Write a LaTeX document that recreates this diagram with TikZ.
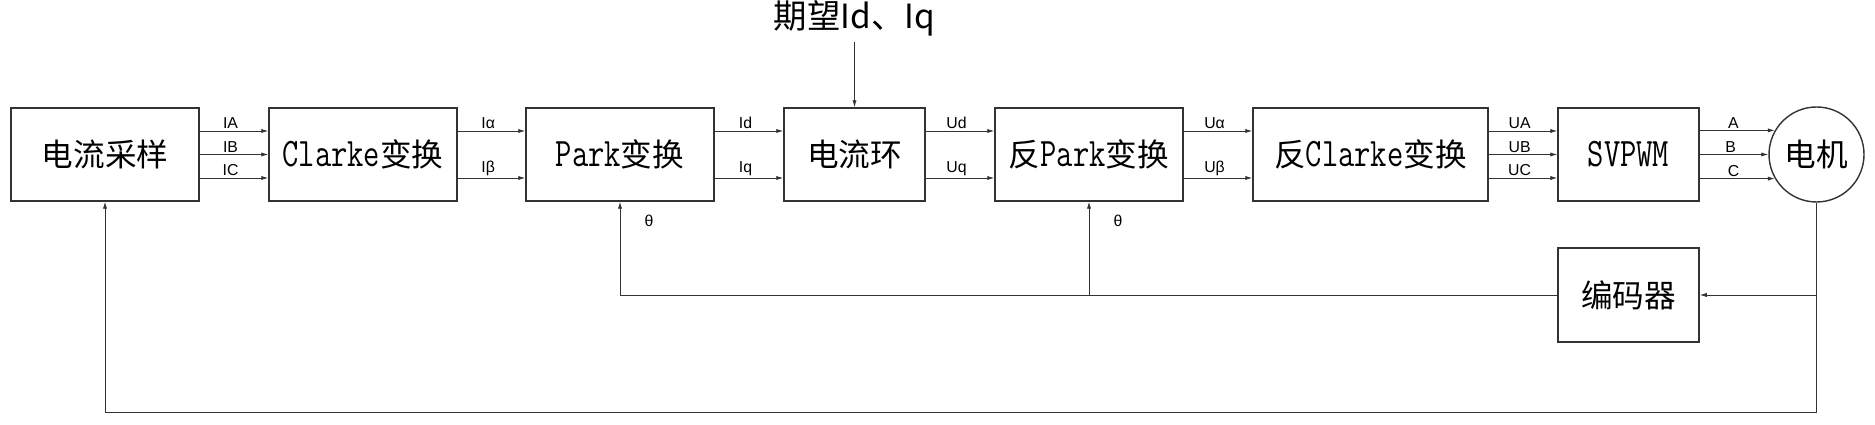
\documentclass[tikz,border=0pt]{standalone}
\usepackage{fontspec}
\setmainfont{Liberation Sans}
\newfontfamily\cjk{Noto Sans CJK SC}
\usetikzlibrary{arrows.meta, positioning, calc}
\definecolor{lnGray}{HTML}{333333}
\newcommand{\boxfont}{\cjk\fontsize{18}{20}\selectfont}
\newcommand{\labfont}{\fontsize{9}{10}\selectfont}
\newcommand{\lat}[1]{\scalebox{1}[1.28]{\ttfamily #1}}

\begin{document}
\begin{tikzpicture}[
    blk/.style={draw=lnGray, line width=0.8pt, minimum height=1.86cm, inner sep=0pt, font=\boxfont},
    sig/.style={draw=lnGray, line width=0.5pt, -{Latex[length=4pt,width=2.4pt]}},
    lab/.style={above, pos=0.45, inner sep=1pt, font=\labfont}]
    \useasboundingbox (0,0) rectangle (37.5,8.5);
    % forward path
    \node[blk, minimum width=3.76cm] (samp)    at (2.10,5.41)  {电流采样};
    \node[blk, minimum width=3.76cm] (clarke)  at (7.26,5.41)  {\lat{Clarke}变换};
    \node[blk, minimum width=3.76cm] (park)    at (12.40,5.41) {\lat{Park}变换};
    \node[blk, minimum width=2.82cm] (loop)    at (17.09,5.41) {电流环};
    \node[blk, minimum width=3.76cm] (ipark)   at (21.78,5.41) {反\lat{Park}变换};
    \node[blk, minimum width=4.70cm] (iclarke) at (27.41,5.41) {反\lat{Clarke}变换};
    \node[blk, minimum width=2.82cm] (svpwm)   at (32.57,5.41) {\lat{SVPWM}};
    \node[blk, circle, minimum size=1.9cm] (motor) at (36.33,5.41) {电机};
    \node[blk, minimum width=2.82cm, minimum height=1.88cm] (enc) at (32.57,2.60) {编码器};
    \node[font=\cjk\fontsize{19}{21}\selectfont] (ref) at (17.09,8.14) {期望Id、Iq};
    \draw[sig] (ref.south) -- (loop.north);
    % three phase links
    \draw[sig] ([yshift=0.47cm]samp.east) -- node[lab]{IA} ([yshift=0.47cm]clarke.west);
    \draw[sig] (samp.east) -- node[lab]{IB} (clarke.west);
    \draw[sig] ([yshift=-0.47cm]samp.east) -- node[lab]{IC} ([yshift=-0.47cm]clarke.west);
    \draw[sig] ([yshift=0.47cm]iclarke.east) -- node[lab]{UA} ([yshift=0.47cm]svpwm.west);
    \draw[sig] (iclarke.east) -- node[lab]{UB} (svpwm.west);
    \draw[sig] ([yshift=-0.47cm]iclarke.east) -- node[lab]{UC} ([yshift=-0.47cm]svpwm.west);
    \draw[sig] (svpwm.east |- motor.150) -- node[lab]{A} (motor.150);
    \draw[sig] (svpwm.east) -- node[lab]{B} (motor.west);
    \draw[sig] (svpwm.east |- motor.210) -- node[lab]{C} (motor.210);
    % two axis links
    \draw[sig] ([yshift=0.47cm]clarke.east) -- node[lab]{Iα} ([yshift=0.47cm]park.west);
    \draw[sig] ([yshift=-0.47cm]clarke.east) -- node[lab]{Iβ} ([yshift=-0.47cm]park.west);
    \draw[sig] ([yshift=0.47cm]park.east) -- node[lab]{Id} ([yshift=0.47cm]loop.west);
    \draw[sig] ([yshift=-0.47cm]park.east) -- node[lab]{Iq} ([yshift=-0.47cm]loop.west);
    \draw[sig] ([yshift=0.47cm]loop.east) -- node[lab]{Ud} ([yshift=0.47cm]ipark.west);
    \draw[sig] ([yshift=-0.47cm]loop.east) -- node[lab]{Uq} ([yshift=-0.47cm]ipark.west);
    \draw[sig] ([yshift=0.47cm]ipark.east) -- node[lab]{Uα} ([yshift=0.47cm]iclarke.west);
    \draw[sig] ([yshift=-0.47cm]ipark.east) -- node[lab]{Uβ} ([yshift=-0.47cm]iclarke.west);
    % feedback
    \coordinate (tap) at (motor.south |- enc.east);
    \coordinate (fbk) at ($(motor.south |- 0,0.26)$);
    \draw[sig] (motor.south) -- (fbk) -| (samp.south);
    \draw[sig] (tap) -- (enc.east);
    \draw[sig] (enc.west) -| (park.south);
    \draw[sig] (ipark.south |- enc.west) -- (ipark.south);
    \node[font=\labfont] (th1) at ($(park.south)+(0.58,-0.38)$) {θ};
    \node[font=\labfont] (th2) at ($(ipark.south)+(0.58,-0.38)$) {θ};
\end{tikzpicture}
\end{document}
